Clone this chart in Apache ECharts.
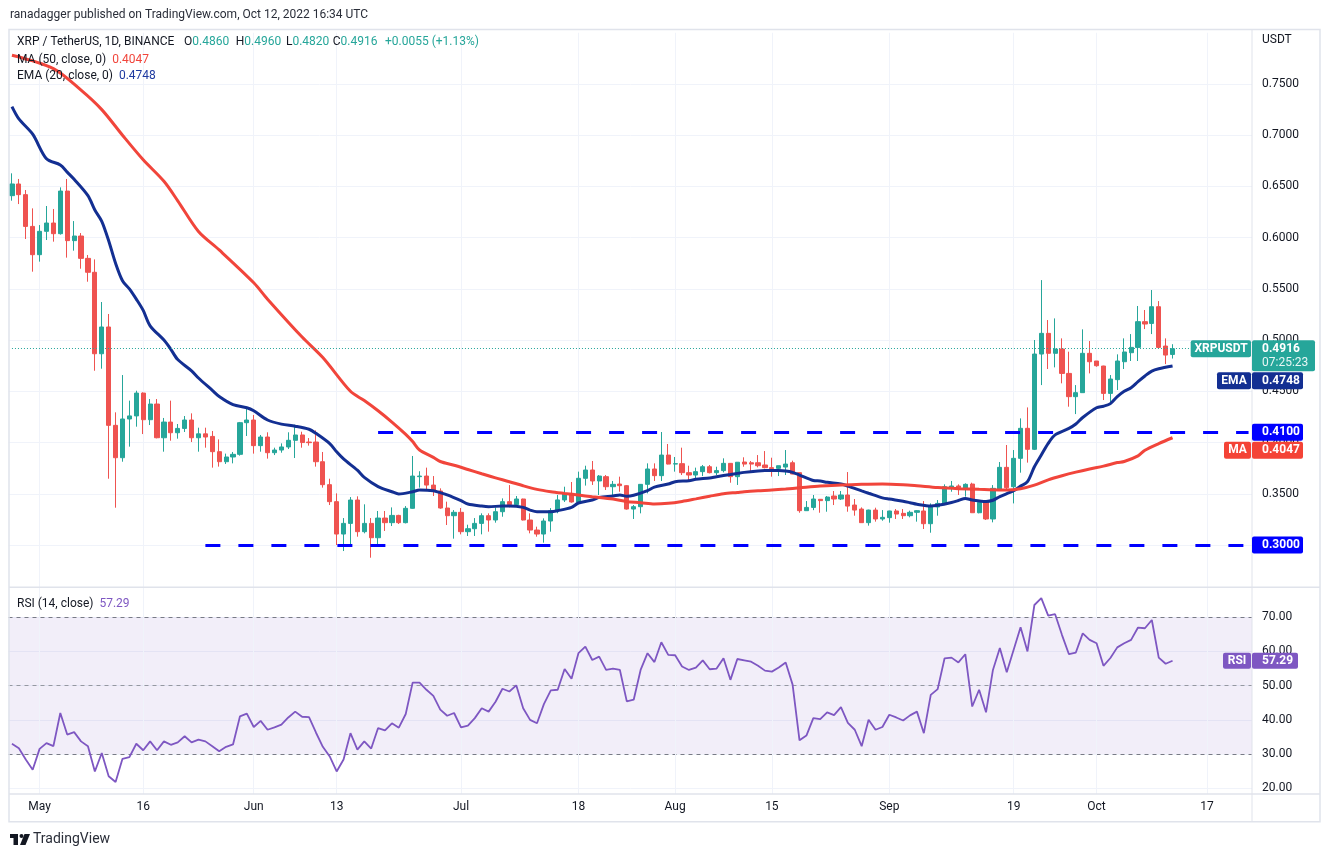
<!DOCTYPE html>
<html><head><meta charset="utf-8">
<script src="https://cdn.jsdelivr.net/npm/echarts@6.0.0/dist/echarts.min.js"></script>
<style>html,body{margin:0;padding:0;background:#fff;}#c{width:1330px;height:857px;}</style>
</head><body><div id="c"></div>
<script>
// ---------------- DATA ----------------
const startDate = '2022-04-27';
const totalSlots = 180;
const opens = [
0.6410,0.6524,0.6420,0.6110,0.5834,0.6062,0.6143,0.6039,0.6455,0.5971,
0.6016,0.5798,0.5662,0.4867,0.5128,0.4168,0.3852,0.4230,0.4260,0.4483,
0.4223,0.4376,0.4047,0.4200,0.4096,0.4138,0.4220,0.4047,0.4085,0.4060,
0.3911,0.3813,0.3859,0.3885,0.4194,0.4220,0.3970,0.4054,0.3901,0.3927,
0.3957,0.4022,0.4074,0.4005,0.4005,0.3813,0.3589,0.3423,0.3107,0.3211,
0.3439,0.3130,0.3211,0.3071,0.3263,0.3218,0.3289,0.3218,0.3358,0.3667,
0.3673,0.3585,0.3527,0.3361,0.3286,0.3319,0.3130,0.3159,0.3211,0.3286,
0.3244,0.3325,0.3423,0.3394,0.3449,0.3244,0.3146,0.3107,0.3234,0.3335,
0.3440,0.3504,0.3420,0.3651,0.3732,0.3625,0.3667,0.3569,0.3595,0.3579,
0.3351,0.3374,0.3592,0.3742,0.3677,0.3878,0.3790,0.3794,0.3706,0.3683,
0.3716,0.3764,0.3706,0.3726,0.3797,0.3667,0.3810,0.3803,0.3803,0.3781,
0.3755,0.3748,0.3761,0.3803,0.3706,0.3335,0.3367,0.3446,0.3433,0.3478,
0.3449,0.3488,0.3390,0.3351,0.3218,0.3341,0.3254,0.3267,0.3332,0.3309,
0.3286,0.3319,0.3332,0.3208,0.3371,0.3397,0.3559,0.3576,0.3543,0.3595,
0.3315,0.3423,0.3254,0.3546,0.3758,0.3569,0.3846,0.4139,0.3934,0.4864,
0.5066,0.4871,0.4913,0.4675,0.4448,0.4487,0.4871,0.4796,0.4747,0.4480,
0.4614,0.4789,0.4877,0.4929,0.5180,0.5163,0.5326,0.4942,0.4860];
const closes = [
0.6524,0.6420,0.6110,0.5834,0.6062,0.6143,0.6039,0.6455,0.5971,0.6016,
0.5798,0.5662,0.4867,0.5128,0.4168,0.3852,0.4230,0.4260,0.4483,0.4223,
0.4376,0.4047,0.4200,0.4096,0.4138,0.4220,0.4047,0.4085,0.4054,0.3911,
0.3813,0.3859,0.3885,0.4194,0.4220,0.3970,0.4054,0.3901,0.3927,0.3957,
0.4022,0.4074,0.4000,0.3999,0.3813,0.3589,0.3423,0.3107,0.3211,0.3439,
0.3130,0.3211,0.3071,0.3263,0.3218,0.3289,0.3218,0.3358,0.3673,0.3673,
0.3585,0.3527,0.3361,0.3286,0.3319,0.3130,0.3159,0.3211,0.3286,0.3244,
0.3325,0.3423,0.3394,0.3449,0.3244,0.3146,0.3107,0.3234,0.3335,0.3440,
0.3504,0.3420,0.3651,0.3732,0.3625,0.3673,0.3569,0.3592,0.3579,0.3351,
0.3374,0.3592,0.3742,0.3677,0.3878,0.3790,0.3794,0.3706,0.3683,0.3716,
0.3764,0.3706,0.3726,0.3797,0.3667,0.3808,0.3790,0.3790,0.3774,0.3755,
0.3745,0.3774,0.3790,0.3693,0.3335,0.3367,0.3449,0.3433,0.3468,0.3449,
0.3488,0.3380,0.3341,0.3218,0.3341,0.3254,0.3270,0.3332,0.3302,0.3286,
0.3319,0.3335,0.3208,0.3380,0.3406,0.3569,0.3576,0.3559,0.3592,0.3315,
0.3416,0.3254,0.3553,0.3758,0.3559,0.3846,0.4139,0.3934,0.4864,0.5066,
0.4871,0.4913,0.4675,0.4448,0.4487,0.4871,0.4789,0.4750,0.4480,0.4620,
0.4796,0.4884,0.4929,0.5180,0.5157,0.5326,0.4929,0.4854,0.4916];
const highs = [
0.6628,0.6573,0.6465,0.6286,0.6123,0.6309,0.6280,0.6491,0.6573,0.6162,
0.6045,0.5831,0.5788,0.5372,0.5255,0.4295,0.4659,0.4409,0.4506,0.4490,
0.4425,0.4425,0.4240,0.4409,0.4181,0.4259,0.4285,0.4145,0.4145,0.4113,
0.4031,0.3892,0.3908,0.4201,0.4334,0.4269,0.4074,0.4100,0.3950,0.3992,
0.4100,0.4175,0.4106,0.4044,0.4119,0.3908,0.3647,0.3504,0.3263,0.3468,
0.3475,0.3397,0.3263,0.3332,0.3332,0.3367,0.3295,0.3380,0.3869,0.3720,
0.3755,0.3673,0.3553,0.3423,0.3341,0.3361,0.3198,0.3263,0.3309,0.3309,
0.3367,0.3455,0.3585,0.3478,0.3452,0.3309,0.3179,0.3260,0.3360,0.3488,
0.3569,0.3615,0.3716,0.3774,0.3820,0.3683,0.3683,0.3625,0.3667,0.3585,
0.3390,0.3595,0.3797,0.3797,0.4103,0.3986,0.3859,0.3950,0.3774,0.3755,
0.3781,0.3781,0.3764,0.3846,0.3800,0.3810,0.3856,0.3820,0.3878,0.3917,
0.3852,0.3774,0.3927,0.3823,0.3706,0.3429,0.3488,0.3446,0.3478,0.3527,
0.3527,0.3712,0.3449,0.3367,0.3345,0.3364,0.3341,0.3335,0.3351,0.3351,
0.3335,0.3341,0.3429,0.3406,0.3439,0.3592,0.3625,0.3592,0.3602,0.3608,
0.3439,0.3439,0.3585,0.3810,0.3976,0.3927,0.4236,0.4343,0.5001,0.5586,
0.5196,0.5212,0.5017,0.4887,0.4561,0.5105,0.4991,0.4796,0.4750,0.4659,
0.4861,0.5017,0.5059,0.5333,0.5294,0.5489,0.5381,0.5017,0.4960];
const lows = [
0.6361,0.6328,0.5987,0.5668,0.5766,0.5977,0.5961,0.6030,0.5805,0.5873,
0.5697,0.5570,0.4701,0.4721,0.3647,0.3364,0.3813,0.3960,0.4155,0.4083,
0.4171,0.4041,0.3911,0.4018,0.4038,0.4103,0.4005,0.3911,0.3950,0.3755,
0.3765,0.3791,0.3797,0.3872,0.4064,0.3892,0.3911,0.3843,0.3878,0.3901,
0.3937,0.3849,0.3950,0.3970,0.3765,0.3560,0.3390,0.3000,0.2941,0.2984,
0.3081,0.3114,0.2876,0.2984,0.3137,0.3185,0.3205,0.3211,0.3354,0.3560,
0.3543,0.3478,0.3354,0.3195,0.3062,0.3104,0.3088,0.3088,0.3104,0.3130,
0.3218,0.3276,0.3367,0.3390,0.3240,0.3114,0.3081,0.3023,0.3130,0.3310,
0.3420,0.3413,0.3410,0.3580,0.3586,0.3488,0.3537,0.3478,0.3520,0.3345,
0.3254,0.3309,0.3504,0.3625,0.3625,0.3787,0.3716,0.3683,0.3634,0.3641,
0.3673,0.3699,0.3683,0.3709,0.3608,0.3586,0.3764,0.3706,0.3758,0.3748,
0.3667,0.3673,0.3683,0.3690,0.3315,0.3335,0.3340,0.3315,0.3325,0.3390,
0.3439,0.3325,0.3286,0.3218,0.3189,0.3228,0.3237,0.3218,0.3254,0.3254,
0.3270,0.3228,0.3156,0.3120,0.3286,0.3397,0.3520,0.3488,0.3472,0.3315,
0.3309,0.3244,0.3221,0.3530,0.3543,0.3406,0.3706,0.3804,0.3927,0.4561,
0.4718,0.4734,0.4578,0.4350,0.4278,0.4487,0.4675,0.4740,0.4415,0.4366,
0.4513,0.4718,0.4796,0.4796,0.5108,0.5059,0.4919,0.4766,0.4820];
const rsiValues = [
33.0,31.7,28.4,25.4,31.5,33.2,32.3,42.0,35.7,36.4,
33.7,32.3,24.9,30.3,23.5,21.8,28.6,29.1,33.0,31.1,
33.7,31.1,33.7,32.7,33.4,35.2,33.4,34.2,33.7,32.3,
30.8,32.1,32.8,41.0,41.8,37.9,39.7,37.1,37.8,38.6,
40.7,42.4,40.9,40.8,36.3,32.1,29.3,24.9,28.4,36.1,
31.3,33.7,31.6,37.6,36.9,39.0,37.7,41.7,50.9,50.9,
48.8,47.0,43.0,41.2,42.0,37.8,38.3,40.5,43.4,42.4,
45.3,49.1,48.3,50.1,43.4,40.0,39.0,44.6,48.6,48.8,
54.9,52.0,59.5,61.4,57.5,58.5,54.6,55.0,54.6,45.4,
45.9,54.6,59.5,56.9,62.7,59.0,58.9,55.6,54.6,55.3,
57.4,54.8,55.0,58.0,51.7,57.8,57.4,57.0,55.8,54.4,
54.1,55.3,56.8,50.3,34.0,35.4,40.5,40.2,42.2,41.4,
43.7,39.1,37.1,32.3,40.0,37.1,37.9,41.5,40.7,39.8,
41.3,42.4,36.1,47.3,49.0,58.0,58.2,56.8,59.2,43.9,
48.8,42.2,54.6,61.0,53.9,60.5,67.1,60.0,73.6,75.6,
70.5,70.9,64.8,59.2,59.7,65.3,63.4,62.4,55.8,58.1,
61.2,62.4,63.4,67.0,66.8,69.2,58.2,56.4,57.29];
// EMA(20) at candle indices
const emaPoints = [[0,0.728],[1,0.716],[3,0.701],[5,0.677],[7,0.671],[8,0.664],[9,0.657],[11,0.641],[12,0.627],[13,0.616],[14,0.597],[15,0.575],[16,0.558],[17,0.550],[18,0.540],[19,0.529],[20,0.514],[22,0.500],[23,0.491],[24,0.481],[26,0.470],[27,0.463],[29,0.451],[30,0.445],[32,0.437],[34,0.434],[35,0.431],[37,0.422],[39,0.418],[41,0.416],[43,0.413],[44,0.409],[46,0.399],[47,0.391],[48,0.384],[50,0.373],[51,0.366],[53,0.357],[55,0.352],[56,0.3498],[58,0.352],[59,0.3537],[61,0.353],[62,0.3511],[63,0.349],[65,0.3433],[66,0.340],[68,0.338],[69,0.3374],[71,0.338],[72,0.338],[74,0.3367],[75,0.3341],[76,0.3325],[78,0.3325],[79,0.3335],[81,0.3367],[82,0.341],[84,0.3439],[85,0.3465],[87,0.3478],[88,0.3488],[89,0.3475],[90,0.3485],[92,0.353],[93,0.3565],[95,0.3595],[96,0.3618],[98,0.3628],[99,0.3641],[101,0.3655],[102,0.3667],[104,0.3688],[105,0.3699],[106,0.3709],[108,0.3722],[109,0.3726],[111,0.3726],[112,0.3722],[113,0.3709],[114,0.3683],[116,0.3630],[117,0.3625],[118,0.3612],[120,0.3595],[121,0.3575],[123,0.3528],[124,0.3505],[126,0.3460],[127,0.3448],[129,0.3427],[130,0.3413],[131,0.3398],[133,0.3380],[134,0.3387],[136,0.3415],[137,0.3434],[138,0.3455],[139,0.3440],[141,0.3425],[142,0.3437],[143,0.3473],[145,0.3530],[146,0.3575],[147,0.3618],[148,0.3764],[149,0.3878],[150,0.3992],[151,0.4075],[153,0.4138],[154,0.4181],[155,0.4245],[157,0.4340],[158,0.4355],[159,0.4380],[160,0.4448],[161,0.4500],[162,0.4535],[163,0.4594],[164,0.4650],[165,0.4698],[166,0.4721],[168,0.4748]];
// MA(50) at candle indices
const maPoints = [[0,0.778],[6,0.765],[10,0.744],[13,0.725],[16,0.700],[19,0.676],[22,0.655],[24,0.636],[27,0.606],[30,0.588],[35,0.556],[37,0.540],[42,0.503],[45,0.483],[49,0.450],[51,0.441],[53,0.431],[55,0.420],[57,0.408],[58,0.401],[59,0.3927],[61,0.3855],[62,0.3815],[64,0.3778],[66,0.3737],[68,0.3695],[70,0.3655],[72,0.3618],[74,0.3578],[76,0.3543],[78,0.3520],[80,0.3503],[82,0.3487],[84,0.3471],[87,0.3448],[89,0.3423],[91,0.3413],[93,0.3400],[95,0.3407],[97,0.3425],[99,0.3450],[101,0.3476],[103,0.3500],[105,0.3513],[106,0.3520],[108,0.3529],[110,0.3536],[112,0.3546],[114,0.3558],[117,0.3576],[120,0.3585],[123,0.3592],[126,0.3595],[129,0.3588],[131,0.3578],[134,0.3561],[137,0.3550],[140,0.3543],[143,0.3537],[144,0.3536],[146,0.3550],[148,0.3585],[150,0.3636],[152,0.3676],[154,0.3711],[156,0.3742],[158,0.3770],[160,0.3805],[161,0.3815],[163,0.3870],[164,0.3925],[166,0.3990],[168,0.4047]];
const tickIdx = [4,19,35,47,65,82,96,110,127,145,157,173];
const tickText = ['May','16','Jun','13','Jul','18','Aug','15','Sep','19','Oct','17'];
const supportLevels = [0.30, 0.41];
const supportStart = [28, 53];
const lastOHLC = ['0.4860','0.4960','0.4820','0.4916'];
const lastChange = '+0.0055 (+1.13%)';
const lastPrice = 0.4916, lastEma = 0.4748, lastMa = 0.4047, lastRsi = 57.29;
const countdown = '07:25:23';

// ---------------- CHART ----------------
const FONT = 'Roboto, "Noto Sans", "DejaVu Sans", sans-serif';
const TXT = '#131722';
const GRIDC = '#f0f3fa';
const UP = '#26a69a', DOWN = '#ef5350';
const EMA_C = '#132f92', MA_C = '#f1453b', RSI_C = '#7e57c2', SUP_C = '#0000ff';
const CLEAR = 'rgba(0,0,0,0)';

const cats = [];
const d0 = new Date(startDate + 'T00:00:00Z');
for (let i = 0; i < totalSlots; i++) cats.push(new Date(d0.getTime() + i * 86400000).toISOString().slice(0, 10));
const candleData = opens.map((o, i) => [o, closes[i], lows[i], highs[i]]);
const tickMap = {}; tickIdx.forEach((k, j) => tickMap[k] = tickText[j]);
const tickSet = new Set(tickIdx);

const priceSplit = []; for (let i = 0; i < 12; i++) priceSplit.push(i === 0 || i === 11 ? CLEAR : GRIDC);
const rsiSplit = [CLEAR, GRIDC, GRIDC, GRIDC, GRIDC, GRIDC, GRIDC, CLEAR];

const GL = 8.5, GW = 1243.5;
const chart = echarts.init(document.getElementById('c'));

const candleMarks = supportLevels.map((lv, j) => [
  {coord: [supportStart[j], lv], lineStyle: {color: SUP_C, width: 3, type: [15, 18]}},
  {coord: [totalSlots - 1, lv]}]);
candleMarks.push([{coord: [0, lastPrice], lineStyle: {color: UP, width: 1, type: [1, 2]}}, {coord: [totalSlots - 1, lastPrice]}]);

const rsiMarks = [
  {yAxis: 70, lineStyle: {color: '#787b86', width: 1, type: [4, 4]}},
  {yAxis: 50, lineStyle: {color: '#9598a1', width: 1, type: [4, 4]}},
  {yAxis: 30, lineStyle: {color: '#787b86', width: 1, type: [4, 4]}}
];
tickIdx.forEach(k => rsiMarks.push([{coord: [k, 78.8], lineStyle: {color: GRIDC, width: 1, type: 'solid'}}, {coord: [k, 18.3]}]));

chart.setOption({
  animation: false,
  textStyle: {fontFamily: FONT},
  grid: [
    {left: GL, width: GW, top: 32.78, height: 563.44},
    {left: GL, width: GW, top: 583.12, height: 239.26}
  ],
  xAxis: [
    {type: 'category', gridIndex: 0, data: cats, boundaryGap: true,
     axisLine: {show: false}, axisTick: {show: false}, axisLabel: {show: false}, splitLine: {show: false}},
    {type: 'category', gridIndex: 1, data: cats, boundaryGap: true, offset: -28.38,
     axisLine: {show: false}, axisTick: {show: false}, splitLine: {show: false},
     axisLabel: {show: true, interval: (i) => tickSet.has(i), formatter: (v, i) => tickMap[i] || '',
       color: TXT, fontSize: 12, fontFamily: FONT, margin: 7}}
  ],
  yAxis: [
    {type: 'value', gridIndex: 0, position: 'right', min: 0.25, max: 0.80, interval: 0.05, scale: true,
     axisLine: {show: false}, axisTick: {show: false},
     axisLabel: {color: TXT, fontSize: 12, fontFamily: FONT, margin: 10,
       formatter: v => (v < 0.2501 || v > 0.7999) ? '' : v.toFixed(4)},
     splitLine: {show: true, lineStyle: {color: priceSplit, width: 1}}},
    {type: 'value', gridIndex: 1, position: 'right', min: 10, max: 80, interval: 10,
     axisLine: {show: false}, axisTick: {show: false},
     axisLabel: {color: TXT, fontSize: 12, fontFamily: FONT, margin: 10,
       formatter: v => (v < 15 || v > 75) ? '' : v.toFixed(2)},
     splitLine: {show: true, lineStyle: {color: rsiSplit, width: 1}}}
  ],
  series: [
    {type: 'candlestick', name: 'XRPUSDT', xAxisIndex: 0, yAxisIndex: 0, data: candleData, barWidth: '68%', z: 2,
     itemStyle: {color: UP, color0: DOWN, borderColor: UP, borderColor0: DOWN, borderWidth: 1},
     markLine: {silent: true, z: 5, symbol: ['none', 'none'], label: {show: false}, emphasis: {disabled: true}, animation: false, data: candleMarks}},
    {type: 'line', name: 'EMA', xAxisIndex: 0, yAxisIndex: 0, data: emaPoints, showSymbol: false, smooth: 0.3, z: 3,
     lineStyle: {color: EMA_C, width: 3}, itemStyle: {color: EMA_C},
     markLine: {silent: true, z: 1, symbol: ['none', 'none'], label: {show: false}, emphasis: {disabled: true}, animation: false,
       lineStyle: {color: GRIDC, width: 1, type: 'solid'}, data: tickIdx.map(k => ({xAxis: k}))}},
    {type: 'line', name: 'MA', xAxisIndex: 0, yAxisIndex: 0, data: maPoints, showSymbol: false, smooth: 0.3, z: 3,
     lineStyle: {color: MA_C, width: 3}, itemStyle: {color: MA_C}},
    {type: 'line', name: 'RSI', xAxisIndex: 1, yAxisIndex: 1, data: rsiValues, showSymbol: false, z: 3,
     lineStyle: {color: RSI_C, width: 1.8}, itemStyle: {color: RSI_C},
     markArea: {silent: true, z: 0, itemStyle: {color: 'rgba(126,87,194,0.1)'}, data: [[{yAxis: 30}, {yAxis: 70}]]},
     markLine: {silent: true, z: 1, symbol: ['none', 'none'], label: {show: false}, emphasis: {disabled: true}, animation: false, data: rsiMarks}}
  ]
});

// ---------------- TEXT, FRAME, LABELS ----------------
function txt(x, y, text, o) {
  o = o || {};
  const st = {text: text, fill: o.fill || TXT, font: o.font || ('12px ' + FONT),
    textAlign: o.align || 'left', align: o.align || 'left', textVerticalAlign: 'middle', verticalAlign: 'middle'};
  if (o.rich) st.rich = o.rich;
  if (o.opacity != null) st.opacity = o.opacity;
  return {type: 'text', x: x, y: y, z: o.z || 60, silent: true, style: st};
}
function box(x, y, w, h, fill, z) { return {type: 'rect', z: z || 90, silent: true, shape: {x: x, y: y, width: w, height: h, r: 2}, style: {fill: fill}}; }
function ln(x1, y1, x2, y2, c, w) { return {type: 'line', z: 55, silent: true, shape: {x1: x1, y1: y1, x2: x2, y2: y2}, style: {stroke: c, lineWidth: w || 1}}; }

const py = v => chart.convertToPixel({gridIndex: 0}, [0, v])[1];
const ry = v => chart.convertToPixel({gridIndex: 1}, [0, v])[1];

const F12 = '12px ' + FONT, B12 = 'bold 12px ' + FONT;
const rich = (c) => ({d: {fill: TXT, font: F12}, v: {fill: c, font: F12}});
const g = [];
// frame & separators
g.push({type: 'rect', z: 55, silent: true, shape: {x: 9, y: 29.5, width: 1311, height: 792.2}, style: {fill: CLEAR, stroke: '#e0e3eb', lineWidth: 1.5}});
g.push(ln(1252, 29.5, 1252, 821.7, '#e0e3eb', 1));
g.push(ln(9, 587.3, 1320, 587.3, '#e0e3eb', 1.5));
g.push(ln(9, 794, 1320, 794, '#e0e3eb', 1.5));
// header texts
g.push(txt(10, 15, 'ranadagger published on TradingView.com, Oct 12, 2022 16:34 UTC', {fill: '#2a2e39'}));
g.push(txt(17, 42, 'XRP / TetherUS, 1D, BINANCE'));
['O', 'H', 'L', 'C'].forEach((k, j) => g.push(txt([184, 235.7, 286, 332.7][j], 42, '{d|' + k + '}{v|' + lastOHLC[j] + '}', {rich: rich(UP)})));
g.push(txt(385, 42, lastChange, {fill: UP}));
g.push(txt(17, 59.5, '{d|MA (50, close, 0)}  {v|' + lastMa.toFixed(4) + '}', {rich: rich(MA_C)}));
g.push(txt(17, 76, '{d|EMA (20, close, 0)}  {v|' + lastEma.toFixed(4) + '}', {rich: rich('#1e3aa0')}));
g.push(txt(17, 603.5, '{d|RSI (14, close)}  {v|' + lastRsi.toFixed(2) + '}', {rich: rich(RSI_C)}));
g.push(txt(1262, 40, 'USDT'));
// TradingView logo
g.push({type: 'rect', z: 60, silent: true, shape: {x: 10, y: 834, width: 8, height: 4}, style: {fill: TXT}});
g.push({type: 'rect', z: 60, silent: true, shape: {x: 13.5, y: 834, width: 4.5, height: 11}, style: {fill: TXT}});
g.push({type: 'circle', z: 60, silent: true, shape: {cx: 21.5, cy: 836, r: 2}, style: {fill: TXT}});
g.push({type: 'polygon', z: 60, silent: true, shape: {points: [[24.5, 834], [30, 834], [25.5, 845], [20, 845]]}, style: {fill: TXT}});
g.push(txt(33, 839.5, 'TradingView', {font: '14px ' + FONT, fill: '#2a2e39'}));

// price scale labels (positions from the axis scale)
const yP = py(lastPrice);
g.push(box(1190.7, yP - 8.5, 60.3, 17, UP));
g.push(txt(1221, yP, 'XRPUSDT', {align: 'center', fill: '#fff', font: B12, z: 95}));
g.push(box(1252, yP - 8.5, 63, 31, UP));
g.push(txt(1262, yP, lastPrice.toFixed(4), {fill: '#fff', font: B12, z: 95}));
g.push(txt(1262, yP + 14, countdown, {fill: '#e8f6f4', font: F12, z: 95}));
const yE = Math.max(py(lastEma), yP - 8.5 + 31 + 1 + 8.5);
g.push(box(1217, yE - 8.5, 34, 17, EMA_C));
g.push(txt(1234, yE, 'EMA', {align: 'center', fill: '#fff', font: B12, z: 95}));
g.push(box(1252, yE - 8.5, 51, 17, EMA_C));
g.push(txt(1262, yE, lastEma.toFixed(4), {fill: '#fff', font: B12, z: 95}));
supportLevels.forEach(lv => {
  const y = py(lv);
  g.push(box(1252, y - 8.5, 51, 17, SUP_C));
  g.push(txt(1262, y, lv.toFixed(4), {fill: '#fff', font: B12, z: 95}));
});
const yM = Math.max(py(lastMa), py(0.41) + 8.5 + 1 + 8.5);
g.push(box(1224, yM - 8.5, 27, 17, '#f44336'));
g.push(txt(1237.5, yM, 'MA', {align: 'center', fill: '#fff', font: B12, z: 95}));
g.push(box(1252, yM - 8.5, 51, 17, '#f44336'));
g.push(txt(1262, yM, lastMa.toFixed(4), {fill: '#fff', font: B12, z: 95}));
const yR = ry(lastRsi);
g.push(box(1223, yR - 8, 28, 16, RSI_C));
g.push(txt(1237, yR, 'RSI', {align: 'center', fill: '#fff', font: B12, z: 95}));
g.push(box(1252, yR - 8, 46, 16, RSI_C));
g.push(txt(1262, yR, lastRsi.toFixed(2), {fill: '#fff', font: B12, z: 95}));

chart.setOption({graphic: g});
</script>
</body></html>
